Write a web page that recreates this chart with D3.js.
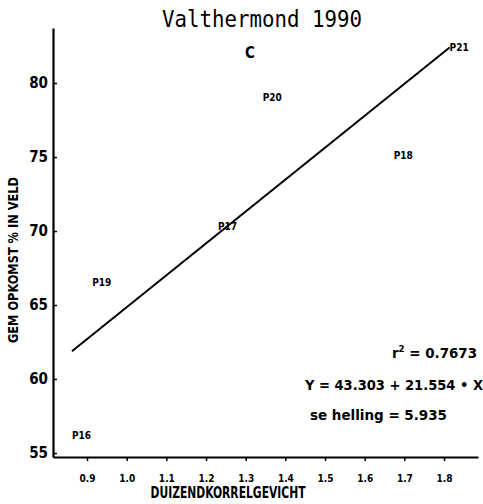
<!DOCTYPE html>
<html>
<head>
<meta charset="utf-8">
<script src="https://cdn.jsdelivr.net/npm/d3@7"></script>
<style>
  html, body { margin: 0; padding: 0; background: #fff; }
  svg { display: block; }
  .bold { font-family: "Liberation Sans Narrow", "DejaVu Sans Condensed", "Liberation Sans", sans-serif; font-weight: bold; fill: #000; }
</style>
</head>
<body>
<svg id="chart" width="483" height="504"></svg>
<script>
// Plots (labels) with thousand-kernel weight and mean field emergence
const plots = ["P16", "P19", "P17", "P20", "P18", "P21"];
const kernelWeight = [0.862, 0.913, 1.230, 1.343, 1.673, 1.814];
const emergence = [56.2, 66.5, 70.3, 79.05, 75.1, 82.4];

// Regression statistics
const intercept = 43.303;
const slope = 21.554;
const rSquared = "0.7673";
const seSlope = "5.935";

const xTicks = [0.9, 1.0, 1.1, 1.2, 1.3, 1.4, 1.5, 1.6, 1.7, 1.8];
const yTicks = [55, 60, 65, 70, 75, 80];

const svg = d3.select("#chart");

const x = d3.scaleLinear().domain([0.8143, 1.8856]).range([53, 478]);
const y = d3.scaleLinear().domain([54.73, 83.72]).range([457, 28]);

// Title
svg.append("text")
  .attr("x", 262).attr("y", 27)
  .attr("text-anchor", "middle")
  .attr("textLength", 200)
  .attr("lengthAdjust", "spacingAndGlyphs")
  .style("font-family", "'DejaVu Sans Mono', 'Liberation Mono', monospace")
  .style("font-size", "23px")
  .text("Valthermond 1990");

// Panel letter
svg.append("text").attr("class", "bold")
  .attr("x", 250).attr("y", 58)
  .attr("text-anchor", "middle")
  .style("font-size", "15px")
  .text("C");

// Y axis
const yAxis = svg.append("g")
  .attr("transform", "translate(53,0)")
  .call(d3.axisLeft(y).tickValues(yTicks).tickSize(-4).tickSizeOuter(0).tickFormat(d3.format("d")));
yAxis.select(".domain").attr("stroke-width", 2.2);
yAxis.selectAll(".tick line").attr("stroke-width", 1.5);
yAxis.selectAll(".tick text")
  .attr("class", "bold")
  .attr("x", -5)
  .style("font-size", "15px")
  .style("font-family", null);

// X axis
const xAxis = svg.append("g")
  .attr("transform", "translate(0,457)")
  .call(d3.axisBottom(x).tickValues(xTicks).tickSize(4).tickSizeOuter(0).tickFormat(d3.format(".1f")));
xAxis.select(".domain").attr("stroke-width", 2.2);
xAxis.selectAll(".tick line").attr("stroke-width", 1.5);
xAxis.selectAll(".tick text")
  .attr("class", "bold")
  .attr("y", 18)
  .style("font-size", "10px")
  .style("font-family", null);

// Axis titles
svg.append("text").attr("class", "bold")
  .attr("x", 228).attr("y", 498)
  .attr("text-anchor", "middle")
  .attr("textLength", 155)
  .attr("lengthAdjust", "spacingAndGlyphs")
  .style("font-size", "15px")
  .text("DUIZENDKORRELGEVICHT");

svg.append("text").attr("class", "bold")
  .attr("transform", "translate(18,260) rotate(-90)")
  .attr("text-anchor", "middle")
  .attr("textLength", 166)
  .attr("lengthAdjust", "spacingAndGlyphs")
  .style("font-size", "14px")
  .text("GEM OPKOMST % IN VELD");

// Regression line over the observed weight range
const xr = d3.extent(kernelWeight);
svg.append("line")
  .attr("x1", x(xr[0])).attr("y1", y(intercept + slope * xr[0]))
  .attr("x2", x(xr[1])).attr("y2", y(intercept + slope * xr[1]))
  .attr("stroke", "#000")
  .attr("stroke-width", 2);

// Plot labels used as point symbols
svg.selectAll("text.pt")
  .data(plots)
  .enter().append("text")
  .attr("class", "pt bold")
  .attr("x", (d, i) => x(kernelWeight[i]))
  .attr("y", (d, i) => y(emergence[i]))
  .attr("dy", "0.35em")
  .style("font-size", "10px")
  .text(d => d);

// Regression statistics
const stats = svg.append("g").attr("class", "bold").style("font-size", "14px");
const r2 = stats.append("text").attr("x", 392).attr("y", 358)
  .attr("textLength", 85).attr("lengthAdjust", "spacingAndGlyphs");
r2.append("tspan").text("r");
r2.append("tspan").attr("dy", -6).style("font-size", "9px").text("2");
r2.append("tspan").attr("dy", 6).text(" = " + rSquared);

stats.append("text").attr("x", 305).attr("y", 390)
  .attr("textLength", 178).attr("lengthAdjust", "spacingAndGlyphs")
  .text(`Y = ${intercept.toFixed(3)} + ${slope.toFixed(3)} \u2022 X`);

stats.append("text").attr("x", 310).attr("y", 420)
  .attr("textLength", 137).attr("lengthAdjust", "spacingAndGlyphs")
  .text(`se helling = ${seSlope}`);
</script>
</body>
</html>
